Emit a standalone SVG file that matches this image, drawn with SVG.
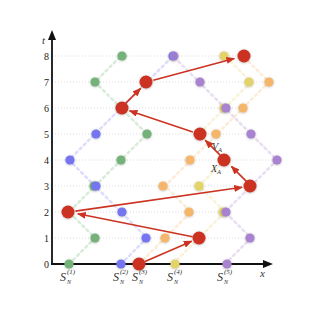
<svg xmlns="http://www.w3.org/2000/svg" width="315" height="315" viewBox="0 0 315 315">
<style>
.grid{stroke:#d6d6d6;stroke-width:0.8;stroke-dasharray:1 2;fill:none}
.walk{fill:none;stroke-width:2.6;stroke-dasharray:2.2 3.6;stroke-linecap:round;opacity:0.33}
.g{fill:#74b27a}.b{fill:#7474f2}.o{fill:#f5b56a}.y{fill:#e4d368}.p{fill:#a983cf}
.wg{stroke:#8cc490}.wb{stroke:#9c9cf6}.wo{stroke:#f8c486}.wy{stroke:#ecdc86}.wp{stroke:#bb9ad9}
.red{fill:#cc3322}
.arr{stroke:#cc3322;stroke-width:1.6;fill:none;marker-end:url(#ah)}
.axis{stroke:#111;stroke-width:1.8;fill:none}
.tick{font-family:"Liberation Serif",serif;font-size:10px;fill:#222;text-anchor:end}
.it{font-family:"Liberation Serif",serif;font-style:italic;fill:#333}
</style>
<defs>
<marker id="ah" viewBox="0 0 10 8" refX="9" refY="4" markerWidth="9" markerHeight="7" markerUnits="userSpaceOnUse" orient="auto">
<path d="M0,0 L10,4 L0,8 Z" fill="#cc3322"/>
</marker>
<marker id="ak" viewBox="0 0 10 8" refX="2" refY="4" markerWidth="10" markerHeight="8" markerUnits="userSpaceOnUse" orient="auto">
<path d="M0,0 L10,4 L0,8 Z" fill="#111"/>
</marker>
<filter id="sh" x="-50%" y="-50%" width="200%" height="200%">
<feDropShadow dx="0" dy="0.5" stdDeviation="1" flood-color="#555" flood-opacity="0.4"/>
</filter>
</defs>

<g id="grid">
<line class="grid" x1="52" y1="238" x2="251" y2="238"/>
<line class="grid" x1="52" y1="212" x2="225" y2="212"/>
<line class="grid" x1="52" y1="186" x2="251" y2="186"/>
<line class="grid" x1="52" y1="160" x2="277" y2="160"/>
<line class="grid" x1="52" y1="134" x2="251" y2="134"/>
<line class="grid" x1="52" y1="108" x2="243" y2="108"/>
<line class="grid" x1="52" y1="82" x2="269" y2="82"/>
<line class="grid" x1="52" y1="56" x2="243" y2="56"/>
</g>

<g id="walks">
<polyline class="walk wg" points="69,264 95,238 69,212 95,186 121,160 147,134 121,108 95,82 121,56"/>
<polyline class="walk wb" points="121,264 147,238 121,212 95,186 69,160 95,134 121,108 147,82 173,56"/>
<polyline class="walk wo" points="139,264 165,238 191,212 165,186 191,160 217,134 243,108 269,82 243,56"/>
<polyline class="walk wy" points="173,264 199,238 225,212 199,186 225,160 199,134 225,108 251,82 225,56"/>
<polyline class="walk wp" points="225,264 251,238 225,212 251,186 277,160 251,134 225,108 199,82 173,56"/>
</g>

<g id="axes">
<line class="axis" x1="52" y1="265" x2="52" y2="38" marker-end="url(#ak)"/>
<line class="axis" x1="51" y1="264" x2="265" y2="264" marker-end="url(#ak)"/>
<text class="it" x="42" y="44" font-size="11">t</text>
<text class="it" x="260" y="277" font-size="11">x</text>
<text class="tick" x="49" y="267.5">0</text>
<text class="tick" x="49" y="241.5">1</text>
<text class="tick" x="49" y="215.5">2</text>
<text class="tick" x="49" y="189.5">3</text>
<text class="tick" x="49" y="163.5">4</text>
<text class="tick" x="49" y="137.5">5</text>
<text class="tick" x="49" y="111.5">6</text>
<text class="tick" x="49" y="85.5">7</text>
<text class="tick" x="49" y="59.5">8</text>
</g>

<g id="walk-green" class="g" filter="url(#sh)">
<circle cx="69" cy="264" r="4.6"/><circle cx="95" cy="238" r="4.6"/><circle cx="69" cy="212" r="4.6"/>
<circle cx="94" cy="186" r="4.6"/><circle cx="121" cy="160" r="4.6"/><circle cx="147" cy="134" r="4.6"/>
<circle cx="121" cy="108" r="4.6"/><circle cx="95" cy="82" r="4.6"/><circle cx="122" cy="56" r="4.6"/>
</g>
<g id="walk-blue" class="b" filter="url(#sh)">
<circle cx="121" cy="264" r="4.6"/><circle cx="146" cy="238" r="4.6"/><circle cx="122" cy="212" r="4.6"/>
<circle cx="96" cy="186" r="4.6"/><circle cx="70" cy="160" r="4.6"/><circle cx="96" cy="134" r="4.6"/>
<circle cx="121" cy="108" r="4.6"/><circle cx="147" cy="82" r="4.6"/><circle cx="173" cy="56" r="4.6"/>
</g>
<g id="walk-orange" class="o" filter="url(#sh)">
<circle cx="139" cy="264" r="4.6"/><circle cx="165" cy="238" r="4.6"/><circle cx="189" cy="212" r="4.6"/>
<circle cx="163" cy="186" r="4.6"/><circle cx="190" cy="160" r="4.6"/><circle cx="216" cy="134" r="4.6"/>
<circle cx="243" cy="108" r="4.6"/><circle cx="269" cy="82" r="4.6"/><circle cx="243" cy="56" r="4.6"/>
</g>
<g id="walk-yellow" class="y" filter="url(#sh)">
<circle cx="175" cy="264" r="4.6"/><circle cx="199" cy="238" r="4.6"/><circle cx="223" cy="212" r="4.6"/>
<circle cx="199" cy="186" r="4.6"/><circle cx="225" cy="160" r="4.6"/><circle cx="199" cy="134" r="4.6"/>
<circle cx="224" cy="108" r="4.6"/><circle cx="249" cy="82" r="4.6"/><circle cx="224" cy="56" r="4.6"/>
</g>
<g id="walk-purple" class="p" filter="url(#sh)">
<circle cx="227" cy="264" r="4.6"/><circle cx="250" cy="238" r="4.6"/><circle cx="226" cy="212" r="4.6"/>
<circle cx="251" cy="186" r="4.6"/><circle cx="277" cy="160" r="4.6"/><circle cx="251" cy="134" r="4.6"/>
<circle cx="226" cy="108" r="4.6"/><circle cx="200" cy="82" r="4.6"/><circle cx="174" cy="56" r="4.6" opacity="0.75"/>
</g>

<g id="connectors">
<line class="arr" x1="145" y1="261.4" x2="191.7" y2="241.2"/>
<line class="arr" x1="192.6" y1="236.7" x2="77.8" y2="213.8"/>
<line class="arr" x1="75.4" y1="211.1" x2="242.1" y2="187.3"/>
<line class="arr" x1="246.4" y1="181.4" x2="231.4" y2="166.4"/>
<line class="arr" x1="220.4" y1="155.4" x2="205.4" y2="140.4"/>
<line class="arr" x1="192.8" y1="131.9" x2="129.5" y2="110.8"/>
<line class="arr" x1="125.6" y1="103.4" x2="140.6" y2="88.4"/>
<line class="arr" x1="153.3" y1="80.3" x2="234.3" y2="58.4"/>
</g>

<g id="path-nodes" class="red" filter="url(#sh)">
<circle id="p0" cx="139" cy="264" r="6.5"/>
<circle id="p1" cx="199" cy="238" r="6.5"/>
<circle id="p2" cx="68" cy="212" r="6.5"/>
<circle id="p3" cx="250" cy="186" r="6.5"/>
<circle id="p4" cx="224" cy="160" r="6.5"/>
<circle id="p5" cx="200" cy="134" r="6.5"/>
<circle id="p6" cx="122" cy="108" r="6.5"/>
<circle id="p7" cx="146" cy="82" r="6.5"/>
<circle id="p8" cx="244" cy="56" r="6.5"/>
</g>

<g id="labels">
<text class="it" x="212" y="150" font-size="10">V<tspan font-size="6.5" dy="2">A</tspan></text>
<text class="it" x="211" y="172" font-size="10">X<tspan font-size="6.5" dy="2">A</tspan></text>
<g id="s1"><text class="it" x="60" y="281" font-size="12">S</text><text class="it" x="67" y="274" font-size="7" font-style="normal">(1)</text><text class="it" x="67" y="284" font-size="6">N</text></g>
<g id="s2"><text class="it" x="113" y="281" font-size="12">S</text><text class="it" x="120" y="274" font-size="7" font-style="normal">(2)</text><text class="it" x="120" y="284" font-size="6">N</text></g>
<g id="s3"><text class="it" x="132" y="281" font-size="12">S</text><text class="it" x="139" y="274" font-size="7" font-style="normal">(3)</text><text class="it" x="139" y="284" font-size="6">N</text></g>
<g id="s4"><text class="it" x="167" y="281" font-size="12">S</text><text class="it" x="174" y="274" font-size="7" font-style="normal">(4)</text><text class="it" x="174" y="284" font-size="6">N</text></g>
<g id="s5"><text class="it" x="217" y="281" font-size="12">S</text><text class="it" x="224" y="274" font-size="7" font-style="normal">(5)</text><text class="it" x="224" y="284" font-size="6">N</text></g>
</g>
</svg>
